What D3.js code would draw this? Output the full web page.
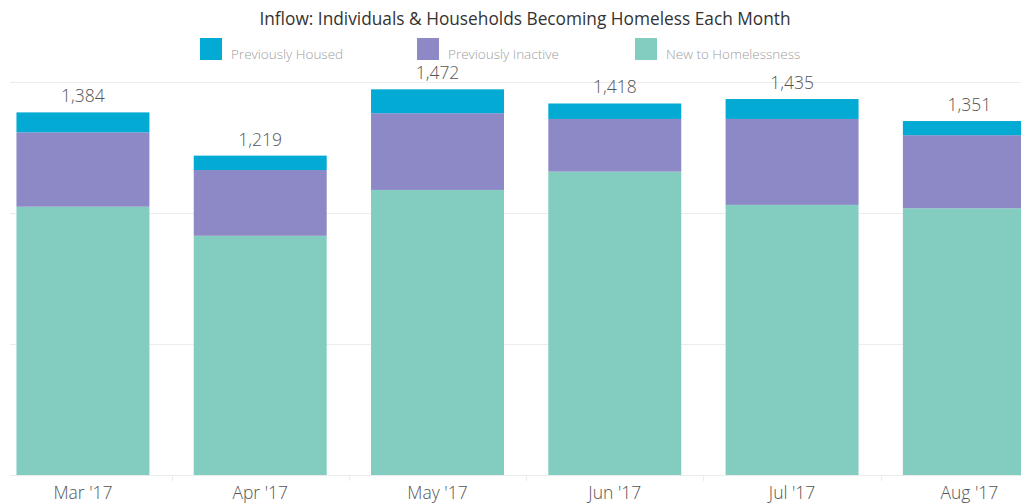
<!DOCTYPE html>
<html>
<head>
<meta charset="utf-8">
<script src="https://cdn.jsdelivr.net/npm/d3@7"></script>
<style>
  html, body { margin: 0; padding: 0; background: #fff; overflow: hidden; }
  svg { display: block; font-family: "Open Sans", "Noto Sans", sans-serif; }
</style>
</head>
<body>
<svg id="chart" width="1021" height="504"></svg>
<script>
// Monthly inflow into homelessness, stacked by source
const months = ["Mar '17", "Apr '17", "May '17", "Jun '17", "Jul '17", "Aug '17"];
const newToHomelessness = [1024, 913, 1088, 1158, 1031, 1018];
const previouslyInactive = [284, 251, 293, 201, 328, 279];
const previouslyHoused = [76, 55, 91, 59, 76, 54];
const gridValues = [0, 500, 1000, 1500];

const seriesKeys = ["New to Homelessness", "Previously Inactive", "Previously Housed"];
const legendOrder = ["Previously Housed", "Previously Inactive", "New to Homelessness"];
const colors = {
  "Previously Housed": "#03aad3",
  "Previously Inactive": "#8d89c6",
  "New to Homelessness": "#82cdc0"
};

const rows = months.map((m, i) => ({
  month: m,
  "New to Homelessness": newToHomelessness[i],
  "Previously Inactive": previouslyInactive[i],
  "Previously Housed": previouslyHoused[i]
}));

const svg = d3.select("#chart");

const x = d3.scaleBand()
  .domain(months)
  .range([-5.7, 1058])
  .paddingInner(0.25)
  .paddingOuter(0.125);

const y = d3.scaleLinear().domain([0, 1500]).range([475, 82]);

// Horizontal gridlines
svg.append("g")
  .selectAll("line")
  .data(gridValues)
  .join("line")
  .attr("x1", 10)
  .attr("x2", 1021)
  .attr("y1", d => Math.round(y(d)) + 0.5)
  .attr("y2", d => Math.round(y(d)) + 0.5)
  .attr("stroke", "#ececec")
  .attr("stroke-width", 1);

// Small separators under the baseline between months
svg.append("g")
  .selectAll("line")
  .data(months.slice(1))
  .join("line")
  .attr("x1", d => Math.round(x(d) - x.step() * x.paddingInner() / 2) + 0.5)
  .attr("x2", d => Math.round(x(d) - x.step() * x.paddingInner() / 2) + 0.5)
  .attr("y1", y(0))
  .attr("y2", y(0) + 6)
  .attr("stroke", "#ececec");

// Stacked bars
const stack = d3.stack().keys(seriesKeys);
const stacked = stack(rows);

svg.append("g")
  .selectAll("g")
  .data(stacked)
  .join("g")
  .attr("fill", d => colors[d.key])
  .selectAll("rect")
  .data(d => d)
  .join("rect")
  .attr("x", d => x(d.data.month))
  .attr("width", x.bandwidth())
  .attr("y", d => y(d[1]))
  .attr("height", d => y(d[0]) - y(d[1]));

// Total labels above each bar
const fmt = d3.format(",");
const total = d => seriesKeys.reduce((s, k) => s + d[k], 0);
svg.append("g")
  .selectAll("text")
  .data(rows)
  .join("text")
  .attr("x", d => x(d.month) + x.bandwidth() / 2)
  .attr("y", d => y(total(d)) - 10)
  .attr("text-anchor", "middle")
  .attr("font-size", 17.5)
  .attr("font-weight", 300)
  .attr("fill", "#555")
  .text(d => fmt(total(d)));

// Month labels
svg.append("g")
  .selectAll("text")
  .data(months)
  .join("text")
  .attr("x", d => x(d) + x.bandwidth() / 2)
  .attr("y", 499)
  .attr("text-anchor", "middle")
  .attr("font-size", 17.5)
  .attr("font-weight", 300)
  .attr("fill", "#555")
  .text(d => d);

// Title
svg.append("text")
  .attr("x", 525)
  .attr("y", 25)
  .attr("text-anchor", "middle")
  .attr("font-size", 17.3)
  .attr("fill", "#333")
  .text("Inflow: Individuals & Households Becoming Homeless Each Month");

// Legend
const legendX = [200, 417, 635];
const legend = svg.append("g")
  .selectAll("g")
  .data(legendOrder)
  .join("g")
  .attr("transform", (d, i) => `translate(${legendX[i]},38)`);

legend.append("rect")
  .attr("width", 22)
  .attr("height", 22)
  .attr("fill", d => colors[d]);

legend.append("text")
  .attr("x", 31)
  .attr("y", 21)
  .attr("font-size", 13.5)
  .attr("font-weight", 300)
  .attr("fill", "#a0a0a0")
  .text(d => d);
</script>
</body>
</html>
